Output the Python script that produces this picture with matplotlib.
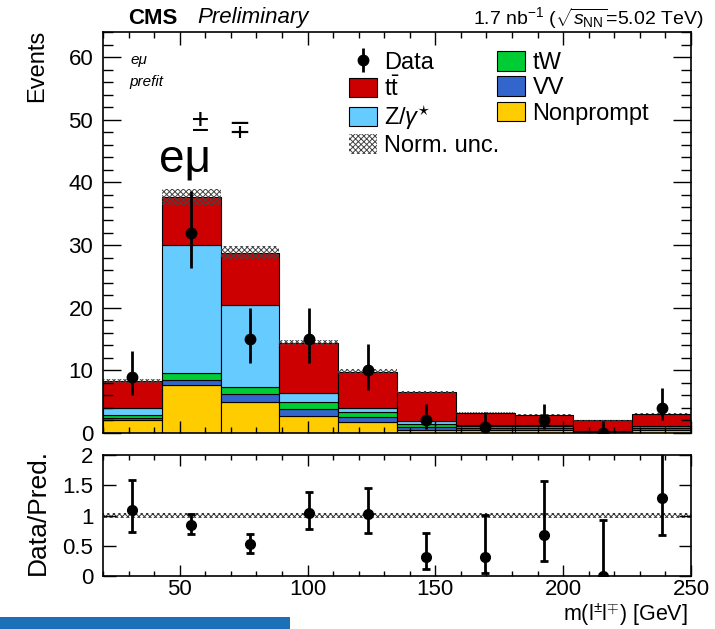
import numpy as np
import matplotlib
matplotlib.use("Agg")
from matplotlib import pyplot as plt
from matplotlib.patches import Patch, Rectangle
from matplotlib.ticker import MultipleLocator

plt.rcParams['font.family'] = ['Liberation Sans', 'DejaVu Sans']
plt.rcParams['mathtext.fontset'] = 'custom'
plt.rcParams['mathtext.rm'] = 'Liberation Sans'
plt.rcParams['mathtext.it'] = 'Liberation Sans:italic'
plt.rcParams['mathtext.bf'] = 'Liberation Sans:bold'
plt.rcParams['hatch.linewidth'] = 0.7

# bins in m(ll) [GeV]
edges = [20, 43, 66, 89, 112, 135, 158, 181, 204, 227, 250]

# stacked backgrounds, bottom to top
nonprompt = [2.05, 7.6, 4.9, 2.75, 1.7, 0.4, 0.5, 0.5, 0.1, 0.5]
vv = [0.4, 0.9, 1.3, 1.05, 0.85, 0.6, 0.3, 0.3, 0.05, 0.3]
tw = [0.45, 1.1, 1.2, 1.15, 0.8, 0.4, 0.3, 0.3, 0.05, 0.25]
zgamma = [1.1, 20.4, 13.0, 1.45, 0.7, 0.5, 0.2, 0.2, 0.05, 0.05]
ttbar = [4.3, 7.7, 8.4, 8.0, 5.75, 4.6, 1.97, 1.64, 1.75, 2.0]

# observed events and poisson errors
data = [9, 32, 15, 15, 10, 2, 1, 2, 0, 4]
data_lo = [2.94, 5.62, 3.82, 3.82, 3.11, 1.29, 0.83, 1.29, 0.0, 1.91]
data_hi = [4.11, 6.70, 4.95, 4.95, 4.26, 2.64, 2.30, 2.64, 1.84, 3.16]

norm_unc = 0.035

samples = [
    ('Nonprompt', nonprompt, '#ffcc00'),
    ('VV', vv, '#3366cc'),
    ('tW', tw, '#00cc33'),
    (r'Z/$\gamma^{\star}$', zgamma, '#66ccff'),
    (r't$\bar{\mathrm{t}}$', ttbar, '#cc0000'),
]

edges = np.array(edges, dtype=float)
centers = 0.5 * (edges[1:] + edges[:-1])
widths = np.diff(edges)

fig = plt.figure(figsize=(7.15, 6.29), dpi=100)
ax = fig.add_axes([103 / 715, 1 - 433 / 629, 588 / 715, 401 / 629])
rax = fig.add_axes([103 / 715, 1 - 576 / 629, 588 / 715, 121 / 629])

bottom = np.zeros(len(centers))
handles = {}
for name, vals, col in samples:
    vals = np.array(vals)
    ax.bar(centers, vals, width=widths, bottom=bottom, color=col,
           edgecolor='black', linewidth=0.8)
    handles[name] = Patch(facecolor=col, edgecolor='black', linewidth=0.8)
    bottom = bottom + vals
total = bottom

lo = np.append(total * (1 - norm_unc), total[-1] * (1 - norm_unc))
hi = np.append(total * (1 + norm_unc), total[-1] * (1 + norm_unc))
ax.fill_between(edges, lo, hi, step='post', facecolor='none', hatch='xxxxxx',
                edgecolor='#444444', linewidth=0)

data = np.array(data, dtype=float)
dlo = np.array(data_lo)
dhi = np.array(data_hi)
eb = ax.errorbar(centers, data, yerr=[dlo, dhi], fmt='o', color='black',
                 markersize=7.5, elinewidth=2, capsize=0, zorder=5)

ax.set_xlim(20, 250)
ax.set_ylim(0, 64)
ax.xaxis.set_major_locator(MultipleLocator(50))
ax.xaxis.set_minor_locator(MultipleLocator(10))
ax.yaxis.set_major_locator(MultipleLocator(10))
ax.yaxis.set_minor_locator(MultipleLocator(2))
ax.tick_params(axis='both', which='both', direction='in', top=True, right=True, width=1)
ax.tick_params(axis='y', which='major', length=13, labelsize=16, pad=7)
ax.tick_params(axis='y', which='minor', length=7)
ax.tick_params(axis='x', which='major', length=9, labelbottom=False)
ax.tick_params(axis='x', which='minor', length=4.5)
for s in ax.spines.values():
    s.set_linewidth(1.2)

# ratio panel
ratio = data / total
rax.fill_between([20, 250], [1 - norm_unc] * 2, [1 + norm_unc] * 2, facecolor='none',
                 hatch='xxxxxx', edgecolor='#333333', linewidth=0)
rax.errorbar(centers, ratio, yerr=[dlo / total, dhi / total], fmt='o', color='black',
             markersize=7, elinewidth=2, capsize=3, capthick=2, zorder=5)
rax.set_xlim(20, 250)
rax.set_ylim(0, 2)
rax.xaxis.set_major_locator(MultipleLocator(50))
rax.xaxis.set_minor_locator(MultipleLocator(10))
rax.yaxis.set_major_locator(MultipleLocator(0.5))
rax.yaxis.set_major_formatter(matplotlib.ticker.FuncFormatter(lambda v, p: '%g' % v))
rax.tick_params(axis='both', which='both', direction='in', top=True, right=True, width=1)
rax.tick_params(axis='y', which='major', length=9, labelsize=16, pad=7)
rax.tick_params(axis='x', which='major', length=8, labelsize=16, pad=2)
rax.tick_params(axis='x', which='minor', length=3.5)
for s in rax.spines.values():
    s.set_linewidth(1.2)

# axis titles
fig.text(37 / 715, 1 - 30 / 629, 'Events', rotation=90, ha='center', va='top', fontsize=17)
fig.text(38 / 715, 1 - 512 / 629, 'Data/Pred.', rotation=90, ha='center', va='center', fontsize=19)
fig.text(688 / 715, 1 - 615 / 629, r'm(l$^{\pm}$l$^{\mp}$) [GeV]', ha='right', va='center',
         fontsize=15.5)

# header
fig.text(128 / 715, 1 - 18 / 629, 'CMS', fontsize=16, fontweight='bold', ha='left', va='center')
fig.text(197 / 715, 1 - 18 / 629, 'Preliminary', fontsize=16, style='italic', ha='left', va='center')
fig.text(703 / 715, 1 - 18 / 629, r'1.7 nb$^{-1}$ ($\sqrt{s_{\mathrm{NN}}}$=5.02 TeV)', fontsize=14,
         ha='right', va='center')

# channel labels
fig.text(130 / 715, 1 - 60 / 629, 'eμ', fontsize=11, style='italic', va='center')
fig.text(129 / 715, 1 - 82 / 629, 'prefit', fontsize=11, style='italic', va='center')
fig.text(159 / 715, 1 - 172 / 629, 'eμ', fontsize=33, ha='left', va='baseline')
fig.text(200 / 715, 1 - 123 / 629, '±', fontsize=22, ha='center', va='center')
fig.text(239 / 715, 1 - 131 / 629, '∓', fontsize=19, ha='center', va='center',
         family=['DejaVu Sans'])

# legend in two columns
norm_patch = Patch(facecolor='white', edgecolor='#444444', hatch='xxxxxx', linewidth=0)
leg_kw = dict(loc='upper left', bbox_transform=fig.transFigure, frameon=False, fontsize=17,
              handlelength=1.2, handleheight=0.9, labelspacing=0.1,
              handletextpad=0.3, borderpad=0, borderaxespad=0)
leg1 = ax.legend([eb, handles[r't$\bar{\mathrm{t}}$'], handles[r'Z/$\gamma^{\star}$'], norm_patch],
                 ['Data', r't$\bar{\mathrm{t}}$', r'Z/$\gamma^{\star}$', 'Norm. unc.'],
                 bbox_to_anchor=(349 / 715, 1 - 51 / 629), **leg_kw)
ax.add_artist(leg1)
ax.legend([handles['tW'], handles['VV'], handles['Nonprompt']],
          ['tW', 'VV', 'Nonprompt'],
          bbox_to_anchor=(497 / 715, 1 - 51 / 629), **leg_kw)

# blue strip at bottom left
fig.patches.append(Rectangle((0, 0), 290 / 715, 12 / 629, transform=fig.transFigure,
                             facecolor='#1c70b8', edgecolor='none'))

plt.savefig('out.png', dpi=100)
plt.close()
